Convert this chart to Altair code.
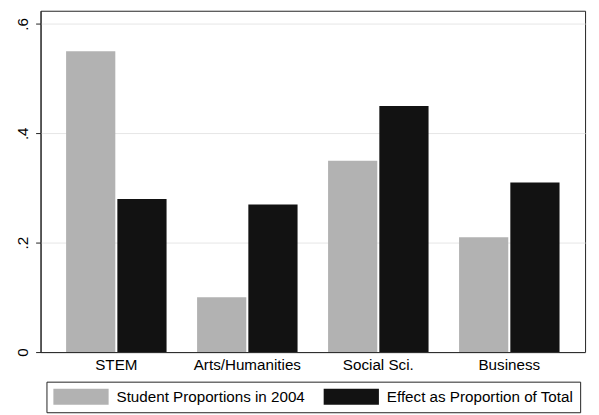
import altair as alt
import pandas as pd

categories = ["STEM", "Arts/Humanities", "Social Sci.", "Business"]
student_2004 = [0.55, 0.10, 0.35, 0.21]
effect_share = [0.28, 0.27, 0.45, 0.31]
series = ["Student Proportions in 2004", "Effect as Proportion of Total"]
colors = ["#b2b2b2", "#121212"]
y_ticks = [0, 0.2, 0.4, 0.6]

rows = []
for c, a, b in zip(categories, student_2004, effect_share):
    rows.append({"field": c, "series": series[0], "value": a})
    rows.append({"field": c, "series": series[1], "value": b})
df = pd.DataFrame(rows)

W, H = 552, 346
FONT = "Liberation Sans, Arial, Helvetica, sans-serif"
FS = 15.4

chart = (
    alt.Chart(df)
    .mark_bar()
    .encode(
        x=alt.X(
            "field:N",
            sort=categories,
            scale=alt.Scale(paddingInner=0.233, paddingOuter=0.195),
            axis=alt.Axis(
                title=None, ticks=False, labelAngle=0, labelFontSize=FS,
                labelPadding=6, labelColor="black", domainColor="#222",
                grid=False, labelFont=FONT,
            ),
        ),
        xOffset=alt.XOffset("series:N", sort=series, scale=alt.Scale(paddingInner=0.04)),
        y=alt.Y(
            "value:Q",
            scale=alt.Scale(domain=[0, 0.624], nice=False, zero=True),
            axis=alt.Axis(
                title=None, values=y_ticks,
                labelExpr="datum.value == 0 ? '0' : '.' + round(datum.value * 10)",
                labelAngle=270, labelAlign="center", labelBaseline="alphabetic",
                labelFontSize=FS, labelPadding=8, tickSize=5, tickColor="#222",
                domainColor="#222", gridColor="#e6e6e6", labelColor="black",
                labelFont=FONT,
            ),
        ),
        color=alt.Color(
            "series:N",
            sort=series,
            scale=alt.Scale(domain=series, range=colors),
            legend=alt.Legend(
                title=None, orient="none", legendX=6, legendY=H + 30,
                direction="horizontal",
                symbolType="M-1,-1L6,-1L6,1L-1,1Z",
                symbolSize=256, symbolStrokeWidth=0,
                labelFontSize=FS, labelOffset=48, columnPadding=19,
                labelLimit=400,
                padding=7, strokeColor="#222", fillColor="white",
                labelColor="black", labelFont=FONT,
            ),
        ),
    )
    .properties(
        width=W, height=H, autosize="none",
        padding={"left": 33, "top": 0, "right": 6, "bottom": 61},
        background="white",
    )
    .configure_view(stroke="#222", strokeWidth=1)
)

chart.save("out.html", embed_options={"renderer": "svg", "actions": False})
